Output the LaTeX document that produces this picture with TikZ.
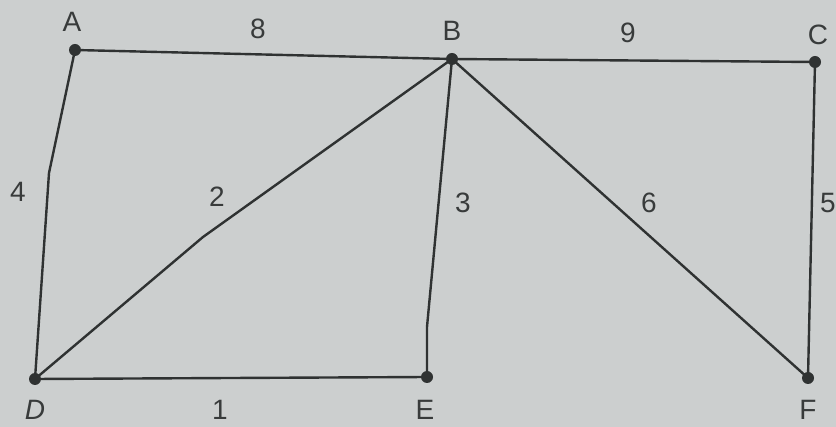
\documentclass[tikz,border=0pt]{standalone}
\usepackage{fontspec}
\setmainfont{Liberation Sans}
\begin{document}
\begin{tikzpicture}[x=1pt,y=-1pt,
  vtx/.style={circle,fill=linec,inner sep=0pt,minimum size=12pt},
  edge/.style={draw=linec,line width=2.4pt,line join=round},
  lbl/.style={text=textc,font=\fontsize{28}{28}\selectfont,inner sep=0pt,anchor=center}]
\definecolor{bgc}{HTML}{CCCFCF}
\definecolor{linec}{HTML}{2F3232}
\definecolor{textc}{HTML}{383B3B}
\fill[bgc] (0,0) rectangle (836,427);
\useasboundingbox (0,0) rectangle (836,427);
% vertices
\node[vtx] (A) at (75,50) {};
\node[vtx] (B) at (452,59) {};
\node[vtx] (C) at (815,62) {};
\node[vtx] (D) at (35,379) {};
\node[vtx] (E) at (427,377) {};
\node[vtx] (F) at (808,378) {};
% kinks
\coordinate (kAD) at (49,173);
\coordinate (kBD) at (203,237);
\coordinate (kBE) at (427,327);
% edges
\draw[edge] (A.center) -- (B.center) -- (C.center);
\draw[edge] (A.center) -- (kAD) -- (D.center);
\draw[edge] (D.center) -- (kBD) -- (B.center);
\draw[edge] (B.center) -- (kBE) -- (E.center);
\draw[edge] (B.center) -- (F.center);
\draw[edge] (C.center) -- (F.center);
\draw[edge] (D.center) -- (E.center);
% vertex labels
\node[lbl] (lA) at (72,22) {A};
\node[lbl] (lB) at (452,31) {B};
\node[lbl] (lC) at (818,35) {C};
\node[lbl] (lD) at (35,410) {\textit{D}};
\node[lbl] (lE) at (425,410) {E};
\node[lbl] (lF) at (808,410) {F};
% weights
\node[lbl] (w8) at (258,29) {8};
\node[lbl] (w9) at (628,33) {9};
\node[lbl] (w4) at (18,192) {4};
\node[lbl] (w2) at (217,197) {2};
\node[lbl] (w3) at (463,203) {3};
\node[lbl] (w6) at (649,203) {6};
\node[lbl] (w5) at (828,203) {5};
\node[lbl] (w1) at (220,410) {1};
\end{tikzpicture}
\end{document}
